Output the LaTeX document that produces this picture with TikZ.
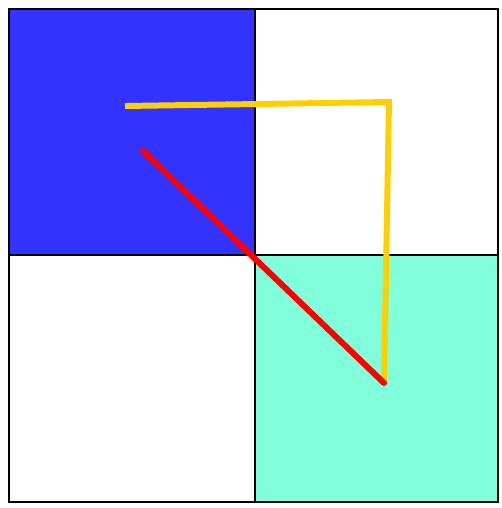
\documentclass[tikz,border=0pt]{standalone}
\usepackage{tikz}
\usetikzlibrary{arrows.meta}
\definecolor{cellblue}{RGB}{51,51,255}
\definecolor{cellaqua}{RGB}{128,255,218}
\definecolor{pathgold}{RGB}{255,208,0}
\definecolor{pathred}{RGB}{255,0,0}
\tikzset{
  cell/.style={draw=black, line width=1.6pt},
  gold/.style={draw=pathgold, line width=3.4pt, line join=miter},
  redline/.style={draw=pathred, line width=3.4pt, line cap=round}
}
\begin{document}
\begin{tikzpicture}[x=0.02cm, y=-0.02cm]
		\useasboundingbox (0,0) rectangle (502,508);
		% 格子
		\coordinate (tl) at (9,9);
		\coordinate (mid) at (255,255);
		\coordinate (br) at (498,502);
		\fill[cellblue] (tl) rectangle (mid);
		\fill[cellaqua] (mid) rectangle (br);
		\draw[cell] (tl) rectangle (br);
		\draw[cell] (255,9) -- (255,502);
		\draw[cell] (9,255) -- (498,255);
		% 路径
		\coordinate (start) at (125,106);
		\coordinate (corner) at (389,102);
		\coordinate (goal) at (384,383);
		\coordinate (redstart) at (143,151);
		\draw[gold] (start) -- (corner) -- (goal);
		\draw[redline] (redstart) -- (goal);
	\end{tikzpicture}
\end{document}
